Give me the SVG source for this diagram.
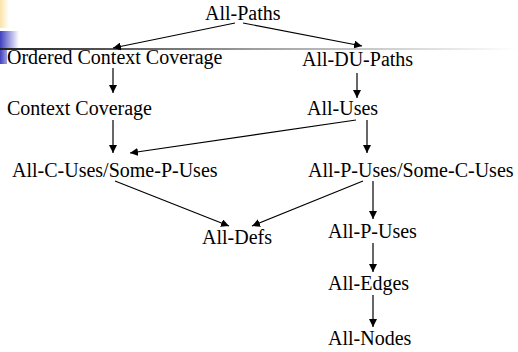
<svg xmlns="http://www.w3.org/2000/svg" width="518" height="352" viewBox="0 0 518 352">
  <defs>
    <linearGradient id="gy" x1="0" y1="0" x2="1" y2="0">
      <stop offset="0" stop-color="#fbe3a8"/>
      <stop offset="1" stop-color="#ffffff"/>
    </linearGradient>
    <linearGradient id="gb" x1="0" y1="0" x2="1" y2="0">
      <stop offset="0" stop-color="#4040c0"/>
      <stop offset="1" stop-color="#ffffff"/>
    </linearGradient>
    <linearGradient id="gb2" x1="0" y1="0" x2="1" y2="0">
      <stop offset="0" stop-color="#4040c0"/>
      <stop offset="1" stop-color="#a0a0e0"/>
    </linearGradient>
    <linearGradient id="gbar" x1="0" y1="0" x2="1" y2="0">
      <stop offset="0" stop-color="#222222"/>
      <stop offset="0.5" stop-color="#a0a0a0"/>
      <stop offset="1" stop-color="#ffffff"/>
    </linearGradient>
    <marker id="ah" viewBox="0 0 10 10" refX="10" refY="5" markerWidth="8" markerHeight="8" markerUnits="userSpaceOnUse" orient="auto">
      <path d="M0,0 L10,5 L0,10 z" fill="#000"/>
    </marker>
  </defs>
  <style>
    .t { font-family: "Liberation Serif", "Times New Roman", serif; font-size: 20px; fill: #000; }
    .e { stroke: #000; stroke-width: 1.2; fill: none; marker-end: url(#ah); }
  </style>
  <rect width="518" height="352" fill="#fff"/>
  <g id="decoration">
    <rect x="0" y="0" width="9" height="28" fill="url(#gy)"/>
    <rect x="0" y="31" width="19" height="17" fill="url(#gb)"/>
    <rect x="0" y="50" width="7" height="14" fill="url(#gb2)"/>
    <rect x="0" y="48" width="518" height="2" fill="url(#gbar)"/>
  </g>
  <g id="connectors">
    <line class="e" x1="235" y1="23" x2="113" y2="48"/>
    <line class="e" x1="243" y1="23" x2="362" y2="46"/>
    <line class="e" x1="113" y1="68" x2="113" y2="93"/>
    <line class="e" x1="357" y1="73" x2="357" y2="98"/>
    <line class="e" x1="113" y1="120" x2="113" y2="153"/>
    <line class="e" x1="356" y1="120" x2="130" y2="153"/>
    <line class="e" x1="367" y1="120" x2="367" y2="153"/>
    <line class="e" x1="115" y1="181" x2="229" y2="226"/>
    <line class="e" x1="363" y1="181" x2="252" y2="226"/>
    <line class="e" x1="373" y1="181" x2="373" y2="219"/>
    <line class="e" x1="373" y1="243" x2="373" y2="272"/>
    <line class="e" x1="373" y1="295" x2="373" y2="327"/>
  </g>
  <g id="n-all-paths"><text class="t" x="205" y="20">All-Paths</text></g>
  <g id="n-ordered"><text class="t" x="7" y="64">Ordered Context Coverage</text></g>
  <g id="n-all-du-paths"><text class="t" x="302" y="66">All-DU-Paths</text></g>
  <g id="n-context"><text class="t" x="7" y="115">Context Coverage</text></g>
  <g id="n-all-uses"><text class="t" x="307" y="115">All-Uses</text></g>
  <g id="n-all-c-uses"><text class="t" x="12" y="177">All-C-Uses/Some-P-Uses</text></g>
  <g id="n-all-p-uses-some"><text class="t" x="308" y="177">All-P-Uses/Some-C-Uses</text></g>
  <g id="n-all-defs"><text class="t" x="202" y="244">All-Defs</text></g>
  <g id="n-all-p-uses"><text class="t" x="328" y="238">All-P-Uses</text></g>
  <g id="n-all-edges"><text class="t" x="328" y="290">All-Edges</text></g>
  <g id="n-all-nodes"><text class="t" x="328" y="345">All-Nodes</text></g>
</svg>
